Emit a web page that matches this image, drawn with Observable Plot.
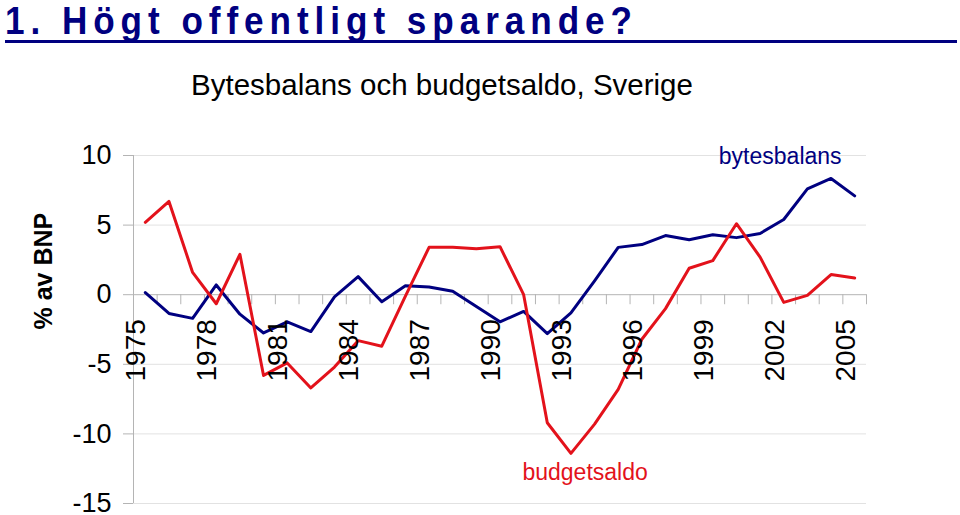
<!DOCTYPE html>
<html><head><meta charset="utf-8">
<script src="https://cdn.jsdelivr.net/npm/d3@7"></script>
<script src="https://cdn.jsdelivr.net/npm/@observablehq/plot@0.6"></script>
<style>
body{margin:0;background:#fff;font-family:"Liberation Sans",Arial,sans-serif;}
#head{position:relative;width:960px;height:110px;overflow:visible;}
#title{position:absolute;left:5px;top:1px;font-weight:bold;font-size:39px;line-height:39px;font-family:"Liberation Sans",Arial,sans-serif;color:#000080;white-space:nowrap;transform-origin:0 0;transform:scaleX(0.9);}
#rule{position:absolute;left:5px;top:40px;width:952px;height:3px;background:#000080;}
#subtitle{position:absolute;left:0;top:70px;width:884px;text-align:center;font-size:29.5px;line-height:29.5px;color:#000;white-space:nowrap;}
#chart svg{display:block;}
</style></head>
<body>
<div id="head">
  <div id="title">1. Högt offentligt sparande?</div>
  <div id="rule"></div>
  <div id="subtitle">Bytesbalans och budgetsaldo, Sverige</div>
</div>
<div id="chart"></div>
<script>
// ---- data ----
const years = [1975,1976,1977,1978,1979,1980,1981,1982,1983,1984,1985,1986,1987,1988,1989,1990,
               1991,1992,1993,1994,1995,1996,1997,1998,1999,2000,2001,2002,2003,2004,2005];
const bytesbalans = [0.15,-1.35,-1.7,0.7,-1.4,-2.75,-1.95,-2.65,-0.15,1.3,-0.5,0.65,0.55,0.25,-0.85,-1.95,
                     -1.2,-2.8,-1.3,1.0,3.4,3.6,4.25,3.95,4.3,4.1,4.4,5.4,7.6,8.35,7.1];
const budgetsaldo = [5.2,6.7,1.6,-0.65,2.9,-5.8,-4.9,-6.7,-5.2,-3.3,-3.7,-0.1,3.4,3.4,3.3,3.45,
                     0.0,-9.2,-11.4,-9.3,-6.8,-3.2,-1.0,1.9,2.45,5.1,2.7,-0.55,-0.05,1.45,1.2];
const seriesNames = ["bytesbalans","budgetsaldo"];
const seriesColors = ["#000080","#e3121b"];
const yTicks = [10,5,0,-5,-10,-15];
const gridValues = [10,5,-5,-10,-15];
const yearLabels = [1975,1978,1981,1984,1987,1990,1993,1996,1999,2002,2005];
const labelYears = [2001.85,1993.6];
const labelValues = [9.9,-12.75];
const yTitle = "% av BNP";

// ---- title letter spacing to match width ----
const t = document.getElementById("title");
const scaleX = 0.9;
const w0 = t.getBoundingClientRect().width / scaleX;
t.style.letterSpacing = ((627 / scaleX - w0) / (t.textContent.length - 1)) + "px";

// ---- chart ----
const rows = [];
seriesNames.forEach((s, k) => {
  const vals = k === 0 ? bytesbalans : budgetsaldo;
  years.forEach((year, i) => rows.push({year, value: vals[i], series: s}));
});
const half = 0.5;
const boundaries = [...years.map(y => y - half), years[years.length - 1] + half];
const xDomain = [years[0] - half, years[years.length - 1] + half];
const axisGray = "#b4b4b4";

const chart = Plot.plot({
  width: 960, height: 405,
  marginTop: 45, marginBottom: 12, marginLeft: 133, marginRight: 94,
  style: {fontFamily: "'Liberation Sans', Arial, sans-serif", color: "#000", background: "#fff"},
  x: {domain: xDomain, axis: null},
  y: {domain: [-15, 10], axis: null},
  color: {domain: seriesNames, range: seriesColors},
  marks: [
    Plot.ruleY(gridValues, {stroke: "#e2e2e2", strokeWidth: 1}),
    Plot.ruleX([xDomain[0]], {y1: yTicks[yTicks.length - 1], y2: yTicks[0], stroke: axisGray}),
    Plot.ruleY([0], {stroke: axisGray}),
    Plot.ruleX(boundaries, {x: d => d, y1: 0, y2: -0.72, stroke: axisGray}),
    Plot.axisY({ticks: yTicks, tickSize: 10, tickPadding: 12, fontSize: 27, stroke: axisGray, fill: "#000",
                tickFormat: d => String(d), label: null}),
    Plot.line(rows, {x: "year", y: "value", z: "series", stroke: "series", strokeWidth: 3, strokeLinejoin: "round"}),
    Plot.text(yearLabels, {x: d => d, text: d => String(d), frameAnchor: "bottom", dy: -122, rotate: -90,
                           textAnchor: "start", fontSize: 28, fill: "#000"}),
    Plot.text(seriesNames, {x: (d, i) => labelYears[i], y: (d, i) => labelValues[i], text: d => d,
                            fill: d => d, fontSize: 23}),
    Plot.text([yTitle], {frameAnchor: "left", dx: -90, rotate: -90, text: d => d, fontSize: 25, fontWeight: "bold", fill: "#000"})
  ]
});
document.getElementById("chart").appendChild(chart);
</script>
</body></html>
